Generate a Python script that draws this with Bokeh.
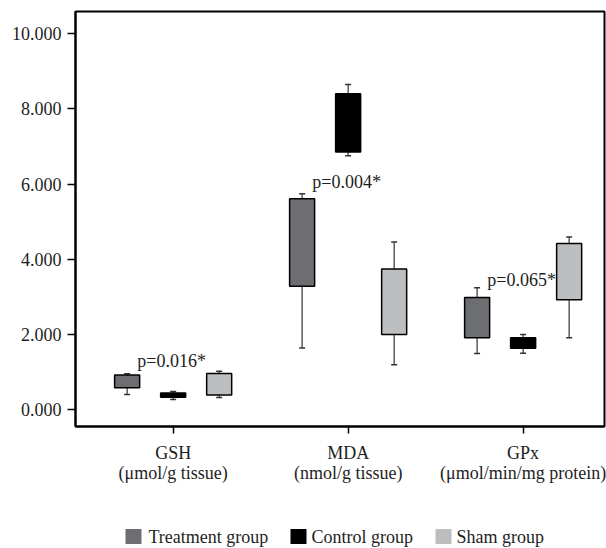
from bokeh.plotting import figure
from bokeh.layouts import column
from bokeh.models import Range1d, FixedTicker, Label, NumeralTickFormatter, ColumnDataSource
from bokeh.core.properties import value
from bokeh.embed import file_html
from bokeh.resources import INLINE

categories = ["GSH\n(μmol/g tissue)", "MDA\n(nmol/g tissue)", "GPx\n(μmol/min/mg protein)"]
groups = ["Treatment group", "Control group", "Sham group"]
colors = ["#6d6e72", "#000000", "#bdbec0"]

# box statistics per group, one value per category (GSH, MDA, GPx)
treat_lo = [0.40, 1.64, 1.49]
treat_q1 = [0.58, 3.28, 1.91]
treat_q3 = [0.92, 5.61, 2.98]
treat_hi = [0.95, 5.74, 3.24]

ctrl_lo = [0.27, 6.75, 1.50]
ctrl_q1 = [0.33, 6.85, 1.63]
ctrl_q3 = [0.44, 8.40, 1.91]
ctrl_hi = [0.48, 8.65, 2.00]

sham_lo = [0.32, 1.19, 1.91]
sham_q1 = [0.39, 2.00, 2.92]
sham_q3 = [0.96, 3.74, 4.42]
sham_hi = [1.02, 4.46, 4.59]

p_texts = ["p=0.016*", "p=0.004*", "p=0.065*"]
p_values_y = [1.30, 6.05, 3.45]

y_ticks = [0, 2, 4, 6, 8, 10]

FONT = "'Liberation Serif', 'Times New Roman', serif"
FS = "18px"
TXT = "#1e1e1e"

p = figure(width=606, height=500, output_backend="svg", toolbar_location=None,
           x_range=Range1d(0.442, 3.465), y_range=Range1d(-0.45, 10.59),
           min_border_left=75, min_border_right=2, min_border_top=11, min_border_bottom=74)
p.background_fill_color = "white"
p.border_fill_color = "white"
p.outline_line_color = "black"
p.outline_line_width = 2
p.xgrid.visible = False
p.ygrid.visible = False

centers = [1, 2, 3]
offsets = [-0.263, 0.0, 0.263]
box_w = 0.143

stats = [
    (treat_lo, treat_q1, treat_q3, treat_hi),
    (ctrl_lo, ctrl_q1, ctrl_q3, ctrl_hi),
    (sham_lo, sham_q1, sham_q3, sham_hi),
]

for gi, (lo, q1, q3, hi) in enumerate(stats):
    xs = [c + offsets[gi] for c in centers]
    p.segment(x0=xs, y0=q3, x1=xs, y1=hi, line_color="#333333", line_width=1.2)
    p.segment(x0=xs, y0=q1, x1=xs, y1=lo, line_color="#333333", line_width=1.2)
    p.dash(x=xs, y=hi, size=6, line_color="#333333", line_width=1.5)
    p.dash(x=xs, y=lo, size=6, line_color="#333333", line_width=1.5)
    p.vbar(x=xs, width=box_w, bottom=q1, top=q3, fill_color=colors[gi],
           line_color="black", line_width=1.5)

for i, t in enumerate(p_texts):
    p.add_layout(Label(x=centers[i] - 0.205, y=p_values_y[i], text=t,
                       text_font=FONT, text_font_size=FS, text_color=TXT,
                       text_baseline="middle", text_align="left"))

# axes
p.yaxis.ticker = FixedTicker(ticks=y_ticks)
p.yaxis.formatter = NumeralTickFormatter(format="0.000")
p.yaxis.major_label_text_font = FONT
p.yaxis.major_label_text_font_size = FS
p.yaxis.major_label_text_color = TXT
p.yaxis.major_tick_out = 8
p.yaxis.major_tick_in = 0
p.yaxis.major_tick_line_width = 1.5
p.yaxis.minor_tick_line_color = None
p.yaxis.axis_line_width = 2
p.yaxis.axis_line_color = "black"
p.yaxis.major_label_standoff = 6

p.xaxis.ticker = FixedTicker(ticks=centers)
p.xaxis.major_label_overrides = {c: categories[i] for i, c in enumerate(centers)}
p.xaxis.major_label_text_font = FONT
p.xaxis.major_label_text_font_size = FS
p.xaxis.major_label_text_color = TXT
p.xaxis.major_label_text_line_height = 1.02
p.xaxis.major_tick_out = 7
p.xaxis.major_tick_in = 0
p.xaxis.major_tick_line_width = 1.5
p.xaxis.minor_tick_line_color = None
p.xaxis.axis_line_width = 2
p.xaxis.axis_line_color = "black"
p.xaxis.major_label_standoff = 9

# legend strip below the chart; its frame is aligned with the chart frame,
# so the x range is set in page pixels of that frame
lg = figure(width=606, height=48, output_backend="svg", toolbar_location=None,
            x_range=Range1d(75, 604), y_range=Range1d(0, 48), min_border=0)
lg.axis.visible = False
lg.grid.visible = False
lg.outline_line_color = None
lg.background_fill_color = "white"
lg.border_fill_color = "white"

legend_src = ColumnDataSource(dict(
    sx=[133, 298, 443], tx=[148, 311, 456], y=[12, 12, 12],
    label=groups, color=colors))
lg.rect(x="sx", y="y", width=16, height=15, source=legend_src,
        fill_color="color", line_color=None)
lg.text(x="tx", y="y", text="label", source=legend_src,
        text_font=value(FONT), text_font_size=FS, text_color=TXT,
        text_baseline="middle", text_align="left")

layout = column(p, lg, spacing=0)
open("out.html", "w").write(file_html(layout, INLINE))
